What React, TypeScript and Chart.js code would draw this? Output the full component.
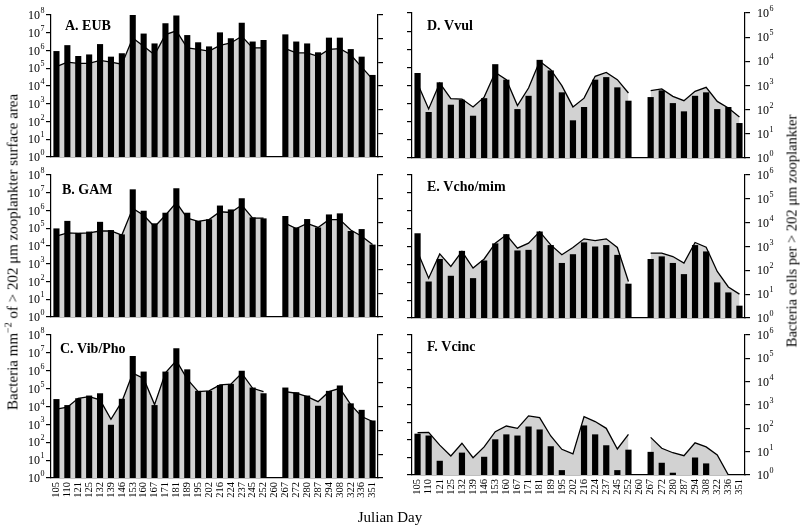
import React, { useEffect, useRef } from "react";
import { Chart, registerables } from "chart.js";
Chart.register(...registerables);

const days = ["105","110","121","125","132","139","146","153","160","167","171","181","189","195","202","216","224","237","245","252","260","267","272","280","287","294","308","322","336","351"];

const eubBars = [9.3e5, 2e6, 4.9e5, 6e5, 2.3e6, 4.5e5, 7e5, 1e8, 9e6, 2.5e6, 3.4e7, 9.5e7, 7.4e6, 2.9e6, 1.7e6, 1.05e7, 4.9e6, 3.7e7, 3.2e6, 3.9e6, null, 8.1e6, 3.2e6, 2.5e6, 7.9e5, 5.3e6, 5.3e6, 1.2e6, 4.5e5, 4.2e4];
const eubLine = [6600, 10200, 9100, 9100, 12000, 10200, 8300, 107000, 48000, 21000, 148000, 214000, 41000, 35000, 30000, 52000, 66000, 126000, 41000, 41000, null, 38000, 25000, 25000, 18000, 35000, 38000, 21000, 6300, 1950];

const gamBars = [9.8e4, 2.6e5, 5.5e4, 6.5e4, 2.3e5, 7.9e4, 4.5e4, 1.56e7, 9.7e5, 1.9e5, 7.5e5, 1.8e7, 7.5e5, 2.6e5, 3.2e5, 1.9e6, 1.15e6, 4.9e6, 4.1e5, 3.6e5, null, 4.9e5, 1.1e5, 3.3e5, 1.1e5, 6e5, 6.9e5, 7e4, 9e4, 1.2e4];
const gamLine = [2600, 3600, 3400, 3600, 4300, 4300, 2900, 39000, 20000, 6500, 20000, 68000, 15000, 11000, 13000, 28000, 26000, 54000, 15000, 15000, null, 9000, 5500, 9000, 6100, 13000, 13000, 4700, 2600, 1150];

const vibBars = [2.6e4, 1.2e4, 2.9e4, 4.1e4, 5.5e4, 950, 2.7e4, 6.7e6, 9e5, 1.2e4, 9e5, 1.8e7, 1.2e6, 7.5e4, 7.5e4, 1.6e5, 1.85e5, 1e6, 1.15e5, 5.5e4, null, 1.15e5, 6.3e4, 4.1e4, 1.1e4, 7.5e4, 1.5e5, 1.5e4, 6.5e3, 1.65e3];
const vibLine = [770, 930, 2200, 2600, 1900, 290, 1600, 25000, 15000, 1200, 26000, 84000, 14000, 4200, 4500, 8100, 8600, 25000, 5800, 4200, null, 4200, 3600, 2600, 1600, 4200, 5800, 1200, 380, 235];

const vvulBars = [4.9e4, 345, 1.5e4, 870, 1650, 215, 2000, 1.5e5, 2.1e4, 500, 2700, 2.6e5, 6.8e4, 4200, 120, 650, 2.1e4, 2.9e4, 7900, 1450, null, 2300, 5400, 1070, 375, 2700, 4200, 500, 650, 85];
const vvulLine = [1200, 107, 1260, 285, 275, 130, 330, 3500, 1740, 147, 790, 10000, 4500, 980, 130, 300, 2400, 3500, 1740, 490, null, 610, 720, 355, 235, 575, 840, 220, 117, 50];

const vchoBars = [5.5e4, 110, 2000, 230, 5700, 170, 1650, 1.5e4, 4.9e4, 6000, 6500, 6.9e4, 1.2e4, 1200, 3700, 1.7e4, 1e4, 1.2e4, 3400, 83, null, 2000, 2800, 1200, 285, 1.2e4, 5300, 98, 27, 4.9];
const vchoLine = [600, 47, 490, 145, 620, 124, 300, 1380, 3100, 850, 1380, 4200, 1170, 450, 910, 2100, 1780, 2100, 910, 34, null, 525, 525, 380, 200, 1470, 930, 90, 20, 10];

const vcincBars = [230, 180, 6.5, null, 19, null, 11, 110, 210, 180, 590, 400, 44, 1.9, null, 680, 210, 50, 1.9, 28, null, 21, 5, 1.35, null, 10, 4.6, null, null, null];
const vcincLine = [65, 67, 19, 6.5, 23, 5.5, 16, 72, 126, 100, 340, 290, 47, 12.6, 8, 316, 195, 100, 13, 55, null, 41, 14, 9, 6.7, 24, 16, 7.2, 1, null];

const leftExps = [0, 1, 2, 3, 4, 5, 6, 7, 8];
const rightExps = [0, 1, 2, 3, 4, 5, 6];

const SERIF = '"Liberation Serif", "Times New Roman", serif';

const decoPlugin = {
  id: "deco",
  afterDraw(chart: any, _args: any, opts: any) {
    const ctx = chart.ctx;
    const side = opts.side;
    const scale = side === "left" ? chart.scales.y : chart.scales.y1;
    const exps = side === "left" ? leftExps : rightExps;
    const ca = chart.chartArea;
    ctx.save();
    ctx.fillStyle = "#000";
    ctx.textAlign = "left";
    ctx.textBaseline = "middle";
    for (const k of exps) {
      const py = scale.getPixelForValue(Math.pow(10, k));
      ctx.font = "12px " + SERIF;
      const w10 = ctx.measureText("10").width;
      ctx.font = "8px " + SERIF;
      const we = ctx.measureText(String(k)).width;
      const x0 = side === "left" ? ca.left - 7 - w10 - we : ca.right + 12;
      ctx.font = "12px " + SERIF;
      ctx.fillText("10", x0, py + 1);
      ctx.font = "8px " + SERIF;
      ctx.fillText(String(k), x0 + w10 + 0.5, py - 4);
    }
    ctx.font = "bold 14px " + SERIF;
    ctx.fillText(opts.label, ca.left + opts.lx, ca.top + opts.ly);
    ctx.restore();
  },
};

type PanelProps = {
  label: string;
  bars: (number | null)[];
  line: (number | null)[];
  side: "left" | "right";
  showX: boolean;
  left: number;
  top: number;
  width: number;
  height: number;
  padTop: number;
  xH: number;
  lw: number;
  rw: number;
  lx: number;
  ly: number;
};

function Panel(p: PanelProps) {
  const ref = useRef<HTMLCanvasElement | null>(null);
  useEffect(() => {
    if (!ref.current) return;
    const decadeTicks = (arr: number[]) => (s: any) => {
      s.ticks = arr.map((k) => ({ value: Math.pow(10, k) }));
    };
    const chart = new Chart(ref.current, {
      type: "bar",
      data: {
        labels: days,
        datasets: [
          {
            type: "bar",
            data: p.bars as any,
            backgroundColor: "#000",
            barPercentage: 0.56,
            categoryPercentage: 1,
            yAxisID: "y",
            order: 1,
          } as any,
          {
            type: "line",
            data: p.line as any,
            yAxisID: "y1",
            borderColor: "#000",
            borderWidth: 1.3,
            backgroundColor: "#d2d2d2",
            fill: "start",
            pointRadius: 0,
            tension: 0,
            spanGaps: false,
            order: 2,
          } as any,
        ],
      },
      options: {
        animation: false,
        responsive: false,
        maintainAspectRatio: false,
        layout: { padding: { top: p.padTop, left: 0, right: 0, bottom: 0 } },
        plugins: {
          legend: { display: false },
          tooltip: { enabled: false },
          deco: { side: p.side, label: p.label, lx: p.lx, ly: p.ly },
        } as any,
        scales: {
          x: {
            type: "category",
            offset: true,
            grid: { display: false, drawTicks: false },
            border: { display: true, color: "#000", width: 1.2 },
            ticks: {
              display: p.showX,
              autoSkip: false,
              minRotation: 90,
              maxRotation: 90,
              padding: 4,
              color: "#000",
              font: { family: SERIF, size: 10.5 },
            },
            afterFit: (s: any) => {
              s.height = p.xH;
            },
          },
          y: {
            type: "logarithmic",
            position: "left",
            min: 1,
            max: 1e8,
            afterBuildTicks: decadeTicks(leftExps),
            ticks: { display: false },
            grid: { drawOnChartArea: false, drawTicks: true, tickLength: 5, color: "#000", lineWidth: 1.2 },
            border: { display: true, color: "#000", width: 1.2 },
            afterFit: (s: any) => {
              s.width = p.lw;
            },
          },
          y1: {
            type: "logarithmic",
            position: "right",
            min: 1,
            max: 1e6,
            afterBuildTicks: decadeTicks(rightExps),
            ticks: { display: false },
            grid: { drawOnChartArea: false, drawTicks: true, tickLength: 5, color: "#000", lineWidth: 1.2 },
            border: { display: true, color: "#000", width: 1.2 },
            afterFit: (s: any) => {
              s.width = p.rw;
            },
          },
        } as any,
      },
      plugins: [decoPlugin as any],
    });
    return () => chart.destroy();
  }, []);
  return (
    <div style={{ position: "absolute", left: p.left, top: p.top, width: p.width, height: p.height }}>
      <canvas ref={ref} width={p.width} height={p.height} style={{ display: "block" }} />
    </div>
  );
}

export default function App() {
  const L = { side: "left" as const, left: 0, width: 400, lw: 51, rw: 22 };
  const R = { side: "right" as const, left: 400, width: 400, lw: 12, rw: 55 };
  return (
    <div
      style={{
        position: "absolute",
        left: 0,
        top: 0,
        width: 800,
        height: 526,
        background: "#fff",
        overflow: "hidden",
        fontFamily: SERIF,
        color: "#000",
      }}
    >
      <Panel {...L} label="A. EUB" bars={eubBars} line={eubLine} showX={false} top={0} height={162} padTop={15} xH={5} lx={14} ly={11} />
      <Panel {...L} label="B. GAM" bars={gamBars} line={gamLine} showX={false} top={162} height={160} padTop={13} xH={5} lx={11} ly={15} />
      <Panel {...L} label="C. Vib/Pho" bars={vibBars} line={vibLine} showX={true} top={322} height={204} padTop={13} xH={48} lx={9} ly={14} />
      <Panel {...R} label="D. Vvul" bars={vvulBars} line={vvulLine} showX={false} top={0} height={163} padTop={13} xH={5} lx={15} ly={13} />
      <Panel {...R} label="E. Vcho/mim" bars={vchoBars} line={vchoLine} showX={false} top={163} height={160} padTop={12} xH={5} lx={15} ly={12} />
      <Panel {...R} label="F. Vcinc" bars={vcincBars} line={vcincLine} showX={true} top={323} height={203} padTop={12} xH={51} lx={15} ly={12} />
      <div
        style={{
          position: "absolute",
          left: 12,
          top: 252,
          transform: "translate(-50%, -50%) rotate(-90deg)",
          whiteSpace: "nowrap",
          fontSize: 15,
        }}
      >
        Bacteria mm<sup style={{ fontSize: 10 }}>−2</sup> of &gt; 202 μm zooplankter surface area
      </div>
      <div
        style={{
          position: "absolute",
          left: 792,
          top: 231,
          transform: "translate(-50%, -50%) rotate(-90deg)",
          whiteSpace: "nowrap",
          fontSize: 14.5,
        }}
      >
        Bacteria cells per &gt; 202 μm zooplankter
      </div>
      <div
        style={{
          position: "absolute",
          left: 390,
          top: 517,
          transform: "translate(-50%, -50%)",
          whiteSpace: "nowrap",
          fontSize: 15,
        }}
      >
        Julian Day
      </div>
    </div>
  );
}
